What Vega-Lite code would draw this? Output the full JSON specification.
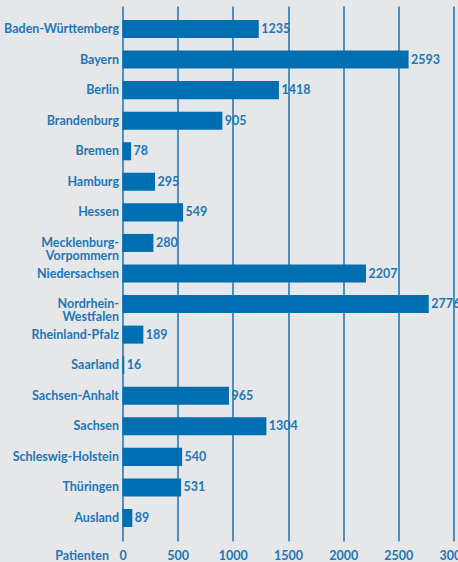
{
  "$schema": "https://vega.github.io/schema/vega-lite/v6.json",
  "autosize": {"type": "none"},
  "width": 331,
  "height": 535,
  "padding": {"left": 122.5, "top": 6, "right": 4.5, "bottom": 21},
  "background": "#e6e7e9",
  "config": {
    "view": {"stroke": null},
    "font": "Lato"
  },
  "data": {
    "values": [
      {"land": "Baden-Württemberg", "patienten": 1235},
      {"land": "Bayern", "patienten": 2593},
      {"land": "Berlin", "patienten": 1418},
      {"land": "Brandenburg", "patienten": 905},
      {"land": "Bremen", "patienten": 78},
      {"land": "Hamburg", "patienten": 295},
      {"land": "Hessen", "patienten": 549},
      {"land": "Mecklenburg-Vorpommern", "patienten": 280},
      {"land": "Niedersachsen", "patienten": 2207},
      {"land": "Nordrhein-Westfalen", "patienten": 2776},
      {"land": "Rheinland-Pfalz", "patienten": 189},
      {"land": "Saarland", "patienten": 16},
      {"land": "Sachsen-Anhalt", "patienten": 965},
      {"land": "Sachsen", "patienten": 1304},
      {"land": "Schleswig-Holstein", "patienten": 540},
      {"land": "Thüringen", "patienten": 531},
      {"land": "Ausland", "patienten": 89}
    ]
  },
  "encoding": {
    "y": {
      "field": "land",
      "type": "nominal",
      "sort": null,
      "scale": {"paddingInner": 0.41, "paddingOuter": 0.458},
      "axis": {
        "title": null,
        "domain": false,
        "ticks": false,
        "labelPadding": 4,
        "labelFont": "Lato",
        "labelFontWeight": "bold",
        "labelFontSize": 12.5,
        "labelColor": "#1d76b6",
        "labelLineHeight": 13,
        "labelExpr": "datum.label == 'Mecklenburg-Vorpommern' ? ['Mecklenburg-', 'Vorpommern'] : datum.label == 'Nordrhein-Westfalen' ? ['Nordrhein-', 'Westfalen'] : datum.label"
      }
    },
    "x": {
      "field": "patienten",
      "type": "quantitative",
      "scale": {"domain": [0, 3000], "nice": false},
      "axis": {
        "values": [0, 500, 1000, 1500, 2000, 2500, 3000],
        "format": "d",
        "grid": true,
        "gridColor": "#1f72b2",
        "gridWidth": 1.5,
        "gridOpacity": 1,
        "domain": false,
        "ticks": false,
        "labelPadding": 8,
        "labelFont": "Lato",
        "labelFontWeight": "bold",
        "labelFontSize": 12.5,
        "labelColor": "#1d76b6",
        "labelFlush": false,
        "labelOverlap": false,
        "title": "Patienten",
        "titleFont": "Lato",
        "titleFontWeight": "bold",
        "titleFontSize": 12.5,
        "titleColor": "#1d76b6",
        "titleAnchor": "start",
        "titleAlign": "right",
        "titleBaseline": "middle",
        "titleX": -14,
        "titleY": 14
      }
    }
  },
  "layer": [
    {
      "mark": {"type": "bar", "color": "#006fb1"}
    },
    {
      "mark": {
        "type": "text",
        "align": "left",
        "baseline": "middle",
        "dx": 2.5,
        "font": "Lato",
        "fontWeight": "bold",
        "fontSize": 12.5,
        "color": "#1d76b6"
      },
      "encoding": {"text": {"field": "patienten", "type": "quantitative"}}
    }
  ]
}
